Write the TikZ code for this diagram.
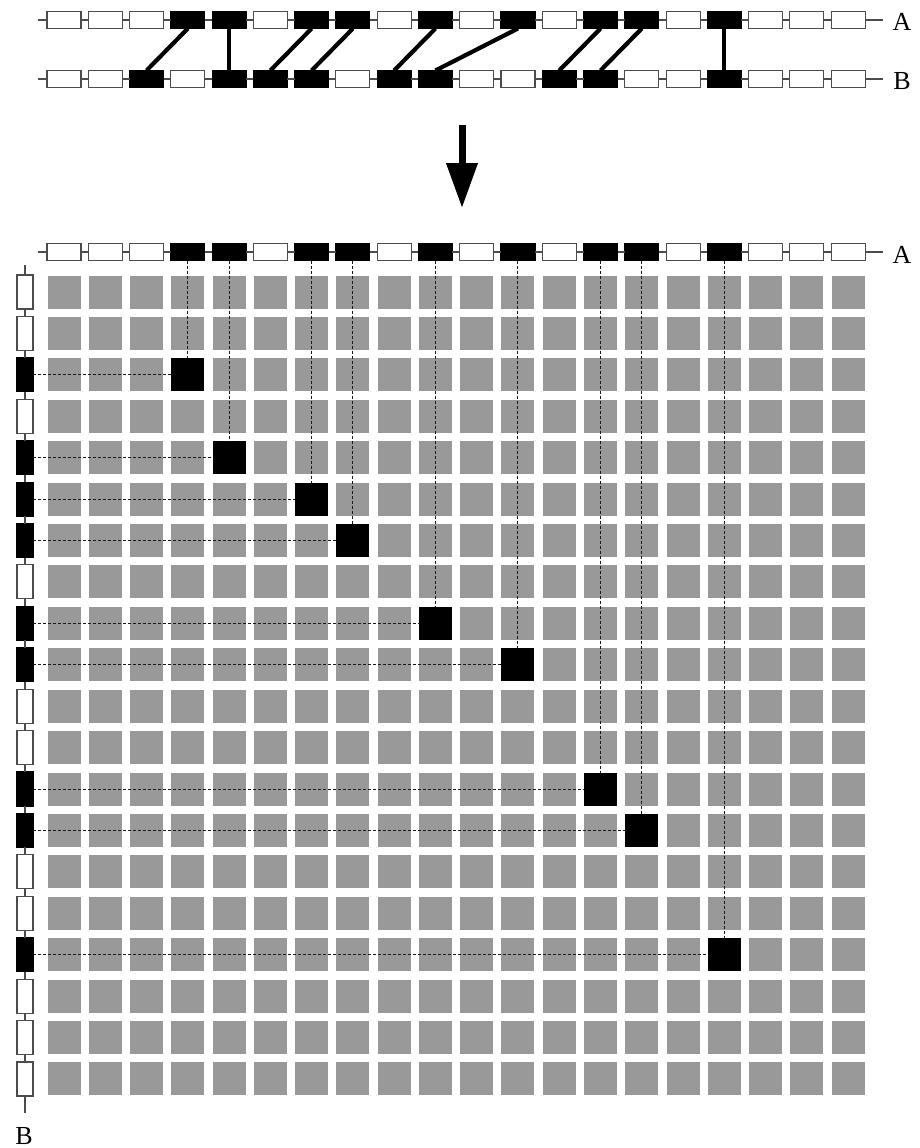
\documentclass[tikz,border=0pt]{standalone}
\usepackage{fontspec}
\setmainfont{Liberation Serif}
\usetikzlibrary{arrows.meta}
\begin{document}
\begin{tikzpicture}[x=1pt,y=-1pt,
  seqbox/.style={draw=black!70,line width=1.1pt,minimum width=34pt,minimum height=17pt,inner sep=0pt,outer sep=0pt},
  vbox/.style={draw=black!70,line width=1.1pt,minimum width=16pt,minimum height=34pt,inner sep=0pt,outer sep=0pt},
  t0/.style={fill=white},
  t1/.style={fill=black,draw=black},
  cell/.style={fill=black!40,minimum size=33pt,inner sep=0pt,outer sep=0pt},
  link/.style={draw=black!70,line width=1.1pt},
  match/.style={line width=4.2pt},
  lead/.style={dash pattern=on 3pt off 2pt,line width=1pt,draw=black!90},
  lbl/.style={font=\fontsize{26}{26}\selectfont,inner sep=0pt}
]
\useasboundingbox (0,0) rectangle (919,1148);
\fill[white] (0,0) rectangle (919,1148);

% ---------- top: sequences A and B ----------
\foreach \t [count=\i] in {0,0,0,1,1,0,1,1,0,1,0,1,0,1,1,0,1,0,0,0} {
  \node[seqbox,t\t] (a\i) at ({64+(\i-1)*41.27},20) {};
}
\foreach \t [count=\i] in {0,0,1,0,1,1,1,0,1,1,0,0,1,1,0,0,1,0,0,0} {
  \node[seqbox,t\t] (b\i) at ({64+(\i-1)*41.27},79) {};
}
\coordinate (a0) at (38,20);  \coordinate (aend) at (883,20);
\coordinate (b0) at (38,79);  \coordinate (bend) at (883,79);
\draw[link] (a0) -- (a1.west);  \draw[link] (a20.east) -- (aend);
\draw[link] (b0) -- (b1.west);  \draw[link] (b20.east) -- (bend);
\foreach \i in {1,...,19} {
  \pgfmathtruncatemacro\j{\i+1}
  \draw[link] (a\i.east) -- (a\j.west);
  \draw[link] (b\i.east) -- (b\j.west);
}
\node[lbl] (labA) at (902,22) {A};
\node[lbl] (labB) at (902,81) {B};
\foreach \p/\q in {4/3,5/5,7/6,8/7,10/9,12/10,14/13,15/14,17/17} {
  \draw[match] (a\p.south) -- (b\q.north);
}

% ---------- arrow ----------
\coordinate (arrTop) at (462,125);
\coordinate (arrTip) at (462,208);
\draw[line width=7pt,-{Triangle[width=30pt,length=45pt]}] (arrTop) -- (arrTip);

% ---------- matrix ----------
\foreach \t [count=\i] in {0,0,0,1,1,0,1,1,0,1,0,1,0,1,1,0,1,0,0,0} {
  \node[seqbox,t\t] (ma\i) at ({64+(\i-1)*41.27},252) {};
}
\foreach \t [count=\j] in {0,0,1,0,1,1,1,0,1,1,0,0,1,1,0,0,1,0,0,0} {
  \node[vbox,t\t] (mb\j) at (25,{292+(\j-1)*41.42}) {};
}
\coordinate (ma0) at (38,252);  \coordinate (maend) at (883,252);
\coordinate (mb0) at (25,265);  \coordinate (mbend) at (25,1113);
\draw[link] (ma0) -- (ma1.west);  \draw[link] (ma20.east) -- (maend);
\draw[link] (mb0) -- (mb1.north); \draw[link] (mb20.south) -- (mbend);
\foreach \i in {1,...,19} {
  \pgfmathtruncatemacro\j{\i+1}
  \draw[link] (ma\i.east) -- (ma\j.west);
  \draw[link] (mb\i.south) -- (mb\j.north);
}
\node[lbl] (labMA) at (902,255) {A};
\node[lbl] (labMB) at (24,1136) {B};

\foreach \i in {1,...,20} {
  \foreach \j in {1,...,20} {
    \node[cell] (c\i-\j) at ({64+(\i-1)*41.27},{292+(\j-1)*41.42}) {};
  }
}
\foreach \p/\q in {4/3,5/5,7/6,8/7,10/9,12/10,14/13,15/14,17/17} {
  \fill[black] (c\p-\q.north west) rectangle (c\p-\q.south east);
  \draw[lead] (ma\p.south) -- (c\p-\q.north);
  \draw[lead] (mb\q.east) -- (c\p-\q.west);
}
\end{tikzpicture}
\end{document}
